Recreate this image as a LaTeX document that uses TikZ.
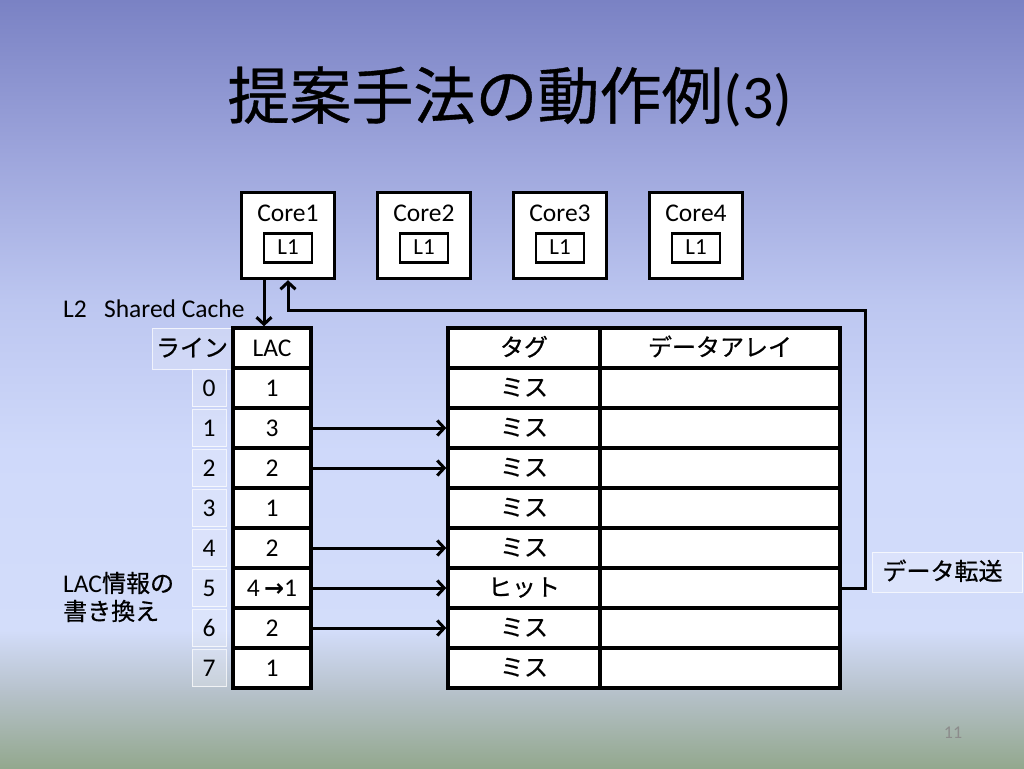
\documentclass[tikz,border=0pt]{standalone}
\usepackage{fontspec}
\setmainfont{Carlito}
\newfontfamily\jp[FakeBold=0.6]{Noto Sans CJK JP}
\newfontfamily\dv{DejaVu Sans}
\newcommand\jpt{\jp\fontsize{24}{28}\selectfont}
\usetikzlibrary{arrows.meta}
\definecolor{bgA}{HTML}{7A82C4}
\definecolor{bgB}{HTML}{9CA4DB}
\definecolor{bgC}{HTML}{BCC6F0}
\definecolor{bgD}{HTML}{CFD9FA}
\definecolor{bgE}{HTML}{D3DDFA}
\definecolor{bgF}{HTML}{B7C2CC}
\definecolor{bgG}{HTML}{93A88E}
\begin{document}
\begin{tikzpicture}[x=1pt,y=-1pt,
  txt/.style={inner sep=0pt, font=\fontsize{25.5}{28}\selectfont},
  cell/.style={draw=black, line width=3.4pt, fill=white, inner sep=0pt,
    text height=18pt, text depth=2pt, font=\fontsize{25.5}{28}\selectfont},
  lbl/.style={draw=white, draw opacity=0.75, fill=white, fill opacity=0.22,
    text opacity=1, line width=1pt, inner sep=0pt,
    text height=18pt, text depth=2pt, font=\fontsize{25.5}{28}\selectfont},
  conn/.style={line width=3pt, -{Straight Barb[length=7pt,width=15pt]}},
]
\useasboundingbox (0,0) rectangle (1024,768);
% background
\shade[top color=bgA, bottom color=bgB] (0,0) rectangle (1024,151);
\shade[top color=bgB, bottom color=bgC] (0,150) rectangle (1024,301);
\shade[top color=bgC, bottom color=bgD] (0,300) rectangle (1024,451);
\shade[top color=bgD, bottom color=bgE] (0,450) rectangle (1024,631);
\shade[top color=bgE, bottom color=bgF] (0,630) rectangle (1024,691);
\shade[top color=bgF, bottom color=bgG] (0,690) rectangle (1024,768);

% title
\node[inner sep=0pt, font=\jp\fontsize{62}{70}\selectfont] (title) at (510,97)
  {提案手法の動作例{\rmfamily (3)}};

% cores
\foreach \k/\x in {1/288,2/424,3/560,4/696}{
  \node[cell, minimum width=93pt, minimum height=86pt] (c\k) at (\x,235.5) {};
  \node[txt] (c\k t) at (\x,213) {Core\k};
  \node[cell, line width=2.6pt, minimum width=48pt, minimum height=29pt,
        font=\fontsize{23}{26}\selectfont, text height=15pt, text depth=1.5pt]
        (c\k l) at (\x,248) {L1};
}

% L2 label
\node[txt, anchor=west] (l2) at (63,309) {L2\ \ \ Shared Cache};

% row labels
\node[lbl, minimum width=79pt, minimum height=41pt] (line) at (192,348.5) {{\jpt ライン}};
\foreach \i in {0,...,7}{
  \node[lbl, minimum width=34pt, minimum height=37pt] (r\i) at (209,388+40*\i) {\i};
}

% headers
\node[cell, minimum width=78pt, minimum height=40pt] (lac) at (272,348) {LAC};
\node[cell, minimum width=152pt, minimum height=40pt] (tag) at (524,348) {{\jpt タグ}};
\node[cell, minimum width=240pt, minimum height=40pt] (dat) at (720,348) {{\jpt データアレイ}};

% rows
\foreach \i/\v/\t in {0/1/ミス,1/3/ミス,2/2/ミス,3/1/ミス,4/2/ミス,5/{4\,{\dv\bfseries\fontsize{24}{24}\selectfont →}1}/ヒット,6/2/ミス,7/1/ミス}{
  \node[cell, minimum width=78pt, minimum height=40pt] (lac\i) at (272,388+40*\i) {\v};
  \node[cell, minimum width=152pt, minimum height=40pt] (tag\i) at (524,388+40*\i) {{\jpt \t}};
  \node[cell, minimum width=240pt, minimum height=40pt] (dat\i) at (720,388+40*\i) {};
}

% LAC -> tag arrows
\foreach \i in {1,2,4,5,6}{
  \draw[conn] (lac\i.east) -- (tag\i.west);
}

% core1 -> LAC
\draw[conn] ([xshift=-24pt]c1.south) -- ([xshift=-8pt]lac.north);

% data transfer
\coordinate (turn) at (865,310);
\draw[conn] (dat5.east) -| (turn) -| (c1.south);

\node[lbl, minimum height=40pt, text width=130pt, inner xsep=10pt, align=left,
      anchor=west] (dt) at (872,572) {{\jpt データ転送}};

% annotation
\node[txt, anchor=west, align=left] (note) at (63,597)
  {LAC{\jpt 情報の}\\{\jpt 書き換え}};

% page number
\node[txt, font=\fontsize{18}{20}\selectfont, text=black!45] (pg) at (953,733) {11};
\end{tikzpicture}
\end{document}
